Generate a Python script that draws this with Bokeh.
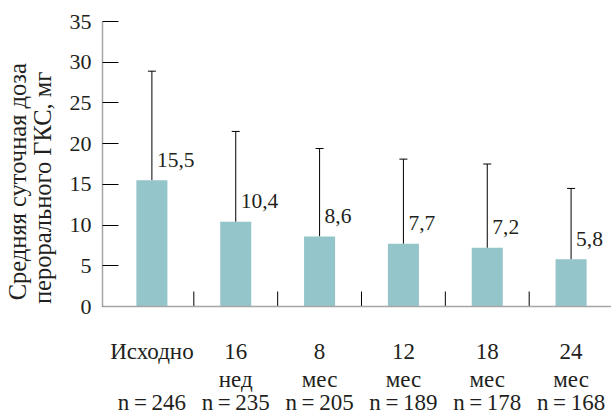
from bokeh.plotting import figure
from bokeh.models import (Range1d, FixedTicker, Whisker, ColumnDataSource, TeeHead,
                          LinearAxis, Span)
from bokeh.core.properties import value
from bokeh.embed import file_html
from bokeh.resources import INLINE

# ---- data ----
cat_line1 = ["Исходно", "16", "8", "12", "18", "24"]
cat_line2 = ["", "нед", "мес", "мес", "мес", "мес"]
n_values = [246, 235, 205, 189, 178, 168]
means = [15.5, 10.4, 8.6, 7.7, 7.2, 5.8]
sds = [13.4, 11.1, 10.8, 10.4, 10.3, 8.7]
y_ticks = [0, 5, 10, 15, 20, 25, 30, 35]
y_title = ["Средняя суточная доза", "перорального ГКС, мг"]

FONT = "Liberation Serif"
TXT = "#231f20"
BAR = "#93c5ca"
GRAY = "#a6a6a6"
NB = "\u00a0"

PX_PER_UNIT = 285 / 35.0     # layout: 35 units over 285 px
FRAME_TOP = 21
FIG_H = 415
Y_MAX = 35
Y_MIN = Y_MAX - (FIG_H - FRAME_TOP) / PX_PER_UNIT

xs = [i + 0.5 for i in range(len(means))]
dividers = [i + 1.0 for i in range(len(means) - 1)]
src = ColumnDataSource(dict(
    x=xs,
    mean=means,
    upper=[m + s for m, s in zip(means, sds)],
    label=[("%.1f" % m).replace(".", ",") for m in means],
    l1=cat_line1,
    l2=cat_line2,
    l3=["n\u2009=\u2009%d" % n for n in n_values],
    zero=[0] * len(means),
))

p = figure(width=611, height=FIG_H, output_backend="svg", toolbar_location=None,
           x_range=Range1d(-0.0893, 5.982), y_range=Range1d(Y_MIN, Y_MAX),
           x_axis_location=None,
           min_border_left=101, min_border_right=0, min_border_top=FRAME_TOP, min_border_bottom=0)
p.outline_line_color = None
p.xgrid.grid_line_color = None
p.ygrid.grid_line_color = None
p.background_fill_color = "white"

p.vbar(x="x", top="mean", bottom=0, width=0.37, source=src, fill_color=BAR, line_color=None)

# x axis line and category dividers
p.add_layout(Span(location=0, dimension="width", line_color=GRAY, line_width=1.5))
p.segment(x0=dividers, x1=dividers, y0=[0] * len(dividers),
          y1=[15 / PX_PER_UNIT] * len(dividers), line_color="black", line_width=1)

w = Whisker(source=src, base="x", lower="mean", upper="upper", dimension="height",
            lower_head=None, upper_head=TeeHead(size=8, line_color="black", line_width=1),
            line_color="black", line_width=1)
p.add_layout(w)

p.text(x="x", y="mean", text="label", source=src, x_offset=5, y_offset=-20.5,
       text_align="left", text_baseline="alphabetic",
       text_font=value(FONT), text_font_size="21.5px", text_color=TXT)

# category labels (three rows under the axis)
for col, off in (("l1", 44.8), ("l2", 72.5), ("l3", 95.7)):
    p.text(x="x", y="zero", text=col, source=src, y_offset=off,
           text_align="center", text_baseline="alphabetic",
           text_font=value(FONT), text_font_size="23px", text_color=TXT)

# main y axis
ya = p.yaxis[0]
ya.bounds = (0, Y_MAX)
ya.ticker = FixedTicker(ticks=y_ticks)
ya.axis_line_color = GRAY
ya.axis_line_width = 1.5
ya.major_tick_in = 16
ya.major_tick_out = 0
ya.major_tick_line_color = "black"
ya.minor_tick_line_color = None
ya.major_label_standoff = 11
ya.major_label_text_font = FONT
ya.major_label_text_font_size = "22px"
ya.major_label_text_color = TXT


def title_axis(text, standoff):
    ax = LinearAxis(ticker=FixedTicker(ticks=[]),
                    axis_line_color=None, major_tick_out=0, major_tick_in=0,
                    minor_tick_out=0, minor_tick_in=0, major_label_standoff=0,
                    axis_label=text, axis_label_standoff=standoff,
                    axis_label_text_font=FONT, axis_label_text_font_size="24.5px",
                    axis_label_text_font_style="normal", axis_label_text_color=TXT)
    p.add_layout(ax, "left")


title_axis(NB * 10 + y_title[1], 11)
title_axis(NB * 12 + y_title[0], -5)

open("out.html", "w").write(file_html(p, INLINE))
